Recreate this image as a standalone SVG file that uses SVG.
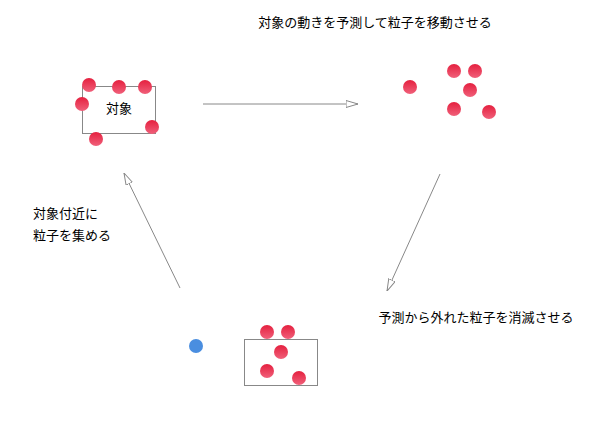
<svg xmlns="http://www.w3.org/2000/svg" width="611" height="440" viewBox="0 0 611 440">
<style>
text{font-family:"Noto Sans CJK JP","Noto Sans",sans-serif;font-size:13px;fill:#000}
.box{fill:none;stroke:#888;stroke-width:1}
.p{fill:url(#g)}
.c{stroke:#888;stroke-width:1;fill:none;marker-end:url(#a)}
</style>
<defs>
<linearGradient id="g" x1="0" y1="0" x2="0" y2="1"><stop offset="0" stop-color="#e5203f"/><stop offset="1" stop-color="#f0607a"/></linearGradient>
<marker id="a" viewBox="0 0 12 8" refX="12" refY="4" markerWidth="12" markerHeight="8" markerUnits="userSpaceOnUse" orient="auto"><path d="M0,0.5 L12,4 L0,7.5 Z" fill="#fff" stroke="#888"/></marker>
</defs>
<g id="n1">
<rect class="box" x="82.5" y="86.5" width="73" height="47"/>
<text x="119" y="113" text-anchor="middle" font-size="10">対象</text>
<circle class="p" cx="89" cy="85" r="7"/><circle class="p" cx="119" cy="87" r="7"/><circle class="p" cx="145" cy="87" r="7"/>
<circle class="p" cx="82" cy="104" r="7"/><circle class="p" cx="152" cy="127" r="7"/><circle class="p" cx="96" cy="139" r="7"/>
</g>
<g id="n2">
<circle class="p" cx="410" cy="87" r="7"/><circle class="p" cx="454" cy="71" r="7"/><circle class="p" cx="475" cy="71" r="7"/>
<circle class="p" cx="470" cy="90" r="7"/><circle class="p" cx="454" cy="109" r="7"/><circle class="p" cx="489" cy="112" r="7"/>
</g>
<g id="n3">
<rect class="box" x="244.5" y="339.5" width="73" height="46"/>
<circle cx="196" cy="346" r="7" fill="#4a8ee0"/>
<circle class="p" cx="267" cy="332" r="7"/><circle class="p" cx="288" cy="332" r="7"/><circle class="p" cx="281" cy="352" r="7"/>
<circle class="p" cx="267" cy="371" r="7"/><circle class="p" cx="299" cy="378" r="7"/>
</g>
<g id="labels">
<text x="375" y="27" text-anchor="middle">対象の動きを予測して粒子を移動させる</text>
<text x="33" y="218">対象付近に</text>
<text x="33" y="240">粒子を集める</text>
<text x="476" y="322" text-anchor="middle">予測から外れた粒子を消滅させる</text>
</g>
<g id="connectors">
<line class="c" x1="203" y1="104" x2="358" y2="104"/>
<line class="c" x1="440" y1="174" x2="387" y2="291"/>
<line class="c" x1="180" y1="288" x2="124" y2="173"/>
</g>
</svg>
